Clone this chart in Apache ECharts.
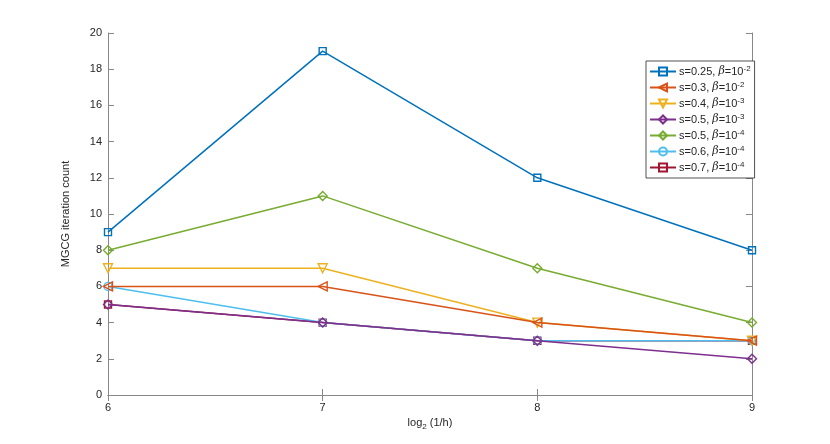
<!DOCTYPE html>
<html><head><meta charset="utf-8">
<script src="https://cdn.jsdelivr.net/npm/echarts@6/dist/echarts.min.js"></script>
<style>html,body{margin:0;padding:0;background:#fff}#c{width:830px;height:444px}</style>
</head><body><div id="c"></div>
<script>
const xValues = [6, 7, 8, 9];
const s025b2 = [9, 19, 12, 8];
const s03b2 = [6, 6, 4, 3];
const s04b3 = [7, 7, 4, 3];
const s05b3 = [5, 4, 3, 2];
const s05b4 = [8, 11, 7, 4];
const s06b4 = [6, 4, 3, 3];
const s07b4 = [5, 4, 3, 3];
const seriesNames = ['s=0.25, β=10^-2','s=0.3, β=10^-2','s=0.4, β=10^-3','s=0.5, β=10^-3','s=0.5, β=10^-4','s=0.6, β=10^-4','s=0.7, β=10^-4'];
const seriesData = [s025b2, s03b2, s04b3, s05b3, s05b4, s06b4, s07b4];
const colors = ['#0072BD','#D95319','#EDB120','#7E2F8E','#77AC30','#4DBEEE','#A2142F'];
const symbols = ['rect','triangle','triangle','diamond','diamond','circle','rect'];
const rotates = [0, 90, 180, 0, 0, 0, 0];
const sizes = [7, 9, 9, 9, 9, 8, 7];

const font = 'Liberation Sans, Arial, sans-serif';
const axisCol = '#888888';
const txtCol = '#262626';

const series = seriesNames.map((n, i) => ({
  name: n,
  type: 'line',
  data: xValues.map((x, j) => [x, seriesData[i][j]]),
  symbol: symbols[i],
  symbolRotate: rotates[i],
  symbolSize: sizes[i],
  showAllSymbol: true,
  lineStyle: { color: colors[i], width: 1.5 },
  itemStyle: { color: 'rgba(255,255,255,0)', borderColor: colors[i], borderWidth: 1.4 },
  emphasis: { disabled: true },
  animation: false,
  z: 10 - i
}));

const chart = echarts.init(document.getElementById('c'), null, { renderer: 'canvas' });
chart.setOption({
  animation: false,
  textStyle: { fontFamily: font },
  grid: { left: 108, right: 78, top: 33, bottom: 49 },
  legend: {
    orient: 'vertical',
    left: 646, top: 61,
    itemWidth: 26, itemHeight: 10, itemGap: 3,
    padding: [4, 4, 4, 3],
    borderColor: '#262626', borderWidth: 0.8,
    backgroundColor: '#fff',
    data: seriesNames,
    formatter: function (n) {
      const m = n.match(/^(.*), β=10\^(.*)$/);
      return m[1] + ', {b|β}=10{sup|' + m[2] + '}';
    },
    textStyle: {
      fontFamily: font, fontSize: 11, color: txtCol, padding: [0, 0, 0, -2], lineHeight: 13,
      rich: {
        b: { fontStyle: 'italic', fontFamily: 'DejaVu Serif, serif', fontSize: 11, color: txtCol },
        sup: { fontSize: 8, color: txtCol, verticalAlign: 'top', padding: [0, 0, 6, 0] }
      }
    }
  },
  xAxis: [{
    type: 'value', min: 6, max: 9, interval: 1,
    name: 'log{sub|2} (1/h)', nameLocation: 'middle', nameGap: 15,
    nameTextStyle: { fontSize: 11, color: txtCol, fontFamily: font,
      rich: { sub: { fontSize: 8, verticalAlign: 'bottom', padding: [6, 0, 0, 0], color: txtCol } } },
    axisLine: { show: true, lineStyle: { color: axisCol, width: 1 } },
    axisTick: { show: true, inside: true, length: 6, lineStyle: { color: axisCol } },
    axisLabel: { fontSize: 11, color: txtCol, margin: 7, fontFamily: font },
    splitLine: { show: false }
  }, {
    type: 'value', min: 6, max: 9, interval: 1, position: 'top',
    axisLine: { show: true, lineStyle: { color: axisCol, width: 1 } },
    axisTick: { show: true, inside: true, length: 6, lineStyle: { color: axisCol } },
    axisLabel: { show: false }, splitLine: { show: false }
  }],
  yAxis: [{
    type: 'value', min: 0, max: 20, interval: 2,
    name: 'MGCG iteration count', nameLocation: 'middle', nameGap: 37,
    nameTextStyle: { fontSize: 11, color: txtCol, fontFamily: font },
    axisLine: { show: true, lineStyle: { color: axisCol, width: 1 } },
    axisTick: { show: true, inside: true, length: 6, lineStyle: { color: axisCol } },
    axisLabel: { fontSize: 11, color: txtCol, margin: 6, fontFamily: font },
    splitLine: { show: false }
  }, {
    type: 'value', min: 0, max: 20, interval: 2, position: 'right',
    axisLine: { show: true, lineStyle: { color: axisCol, width: 1 } },
    axisTick: { show: true, inside: true, length: 6, lineStyle: { color: axisCol } },
    axisLabel: { show: false }, splitLine: { show: false }
  }],
  series: series
});
</script></body></html>
